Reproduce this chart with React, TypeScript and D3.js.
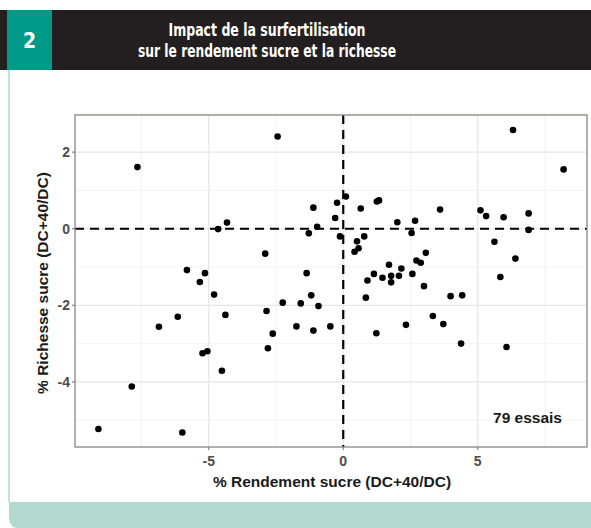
import * as d3 from 'd3'

// % Rendement sucre (x) and % Richesse sucre (y)
const rendement = [
  -7.65, -2.44, -4.65, -4.32, -5.81, -5.33, -5.14, -4.8, -2.9, -1.28,
  -1.11, -0.97, -1.36, -1.19, -2.25, -1.58, -2.85, -4.38, -6.15, -0.92,
  -6.85, -5.23, -5.05, -4.51, -7.86, -9.1, -5.98, -2.62, -2.8, -1.74,
  -1.11, 6.31, 8.19, 0.1, -0.23, -0.3, -0.12, 0.65, 1.25, 1.33,
  2.01, 2.67, 2.54, 3.6, 5.1, 5.31, 5.96, 6.89, 6.89, 5.62,
  6.4, 5.84, 0.51, 0.78, 0.57, 0.42, 3.07, 2.72, 2.88, 1.7,
  1.14, 0.9, 1.46, 1.78, 1.78, 2.07, 2.16, 2.57, 3.0, 0.84,
  3.99, 4.42, 3.33, -0.48, 1.23, 2.33, 3.72, 4.38, 6.07,
]
const richesse = [
  1.61, 2.41, -0.01, 0.16, -1.08, -1.39, -1.16, -1.72, -0.65, -0.12,
  0.55, 0.05, -1.16, -1.74, -1.93, -1.95, -2.15, -2.25, -2.3, -2.02,
  -2.56, -3.25, -3.2, -3.71, -4.12, -5.23, -5.32, -2.74, -3.12, -2.55,
  -2.66, 2.58, 1.55, 0.84, 0.68, 0.28, -0.2, 0.53, 0.71, 0.74,
  0.17, 0.21, -0.11, 0.5, 0.48, 0.33, 0.3, 0.4, -0.03, -0.34,
  -0.78, -1.26, -0.33, -0.2, -0.51, -0.6, -0.63, -0.83, -0.89, -0.94,
  -1.18, -1.35, -1.28, -1.23, -1.4, -1.23, -1.04, -1.18, -1.5, -1.8,
  -1.76, -1.74, -2.28, -2.55, -2.73, -2.51, -2.49, -3.0, -3.09,
]
const xTicks = [-5, 0, 5]
const xMinor = [-7.5, -2.5, 2.5, 7.5]
const yTicks = [-4, -2, 0, 2]
const yMinor = [-5, -3, -1, 1, 3]

const titleLines = ['Impact de la surfertilisation', 'sur le rendement sucre et la richesse']
const titleWidths = [197, 258]

const W = 591
const H = 528
const panel = { left: 75, top: 115, right: 587, bottom: 447 }

export default function App() {
  const x = d3.scaleLinear().domain([-9.97, 9.06]).range([panel.left, panel.right])
  const y = d3.scaleLinear().domain([-5.7, 2.97]).range([panel.bottom, panel.top])
  const points = d3.zip(rendement, richesse)

  const condensed = '"Liberation Sans Narrow", "DejaVu Sans Condensed", "Roboto", sans-serif'
  const plotFont = '"Liberation Sans", Arial, sans-serif'

  const bandPath = `M9,502 H${W} V${H} H19 Q9,${H} 9,${H - 10} Z`

  return (
    <svg
      width={W}
      height={H}
      style={{ position: 'fixed', left: 0, top: 0, background: '#fff' }}
    >
      {/* header */}
      <rect x={0} y={10} width={W} height={60} fill="#231f20" />
      <rect x={7} y={10} width={45} height={60} fill="#009a89" />
      <text
        x={29.5}
        y={48}
        textAnchor="middle"
        fill="#fff"
        fontFamily={condensed}
        fontWeight="bold"
        fontSize={21}
      >
        2
      </text>
      {titleLines.map((line, i) => (
        <text
          key={line}
          x={267}
          y={36 + i * 21}
          textAnchor="middle"
          fill="#fff"
          fontFamily={condensed}
          fontWeight="bold"
          fontSize={18}
          textLength={titleWidths[i]}
          lengthAdjust="spacingAndGlyphs"
        >
          {line}
        </text>
      ))}

      {/* frame */}
      <line x1={9} x2={9} y1={70} y2={502} stroke="#c3e2db" strokeWidth={2} />
      <path d={bandPath} fill="#b3d8d0" />

      {/* grid */}
      <g stroke="#f0f0f0" strokeWidth={0.8}>
        {xMinor.map((v) => (
          <line key={`xm${v}`} x1={x(v)} x2={x(v)} y1={panel.top} y2={panel.bottom} />
        ))}
        {yMinor.map((v) => (
          <line key={`ym${v}`} x1={panel.left} x2={panel.right} y1={y(v)} y2={y(v)} />
        ))}
      </g>
      <g stroke="#e6e6e6" strokeWidth={1.2}>
        {xTicks.map((v) => (
          <line key={`x${v}`} x1={x(v)} x2={x(v)} y1={panel.top} y2={panel.bottom} />
        ))}
        {yTicks.map((v) => (
          <line key={`y${v}`} x1={panel.left} x2={panel.right} y1={y(v)} y2={y(v)} />
        ))}
      </g>

      {/* zero lines */}
      <g stroke="#000" strokeWidth={2.2} strokeDasharray="9 6">
        <line x1={panel.left} x2={panel.right} y1={y(0)} y2={y(0)} />
        <line x1={x(0)} x2={x(0)} y1={panel.top} y2={panel.bottom} />
      </g>

      {/* points */}
      <g fill="#000">
        {points.map(([a, b], i) => (
          <circle key={i} cx={x(a)} cy={y(b)} r={3.3} />
        ))}
      </g>

      {/* panel border */}
      <rect
        x={panel.left}
        y={panel.top}
        width={panel.right - panel.left}
        height={panel.bottom - panel.top}
        fill="none"
        stroke="#8a8482"
        strokeWidth={1.3}
      />

      {/* axes */}
      <g fontFamily={plotFont} fontWeight="bold" fontSize={14} fill="#4d4d4d">
        {xTicks.map((v) => (
          <g key={`xt${v}`}>
            <line x1={x(v)} x2={x(v)} y1={panel.bottom} y2={panel.bottom + 3} stroke="#8a8482" strokeWidth={1.2} />
            <text x={x(v)} y={466} textAnchor="middle">
              {String(v)}
            </text>
          </g>
        ))}
        {yTicks.map((v) => (
          <g key={`yt${v}`}>
            <line x1={panel.left - 3} x2={panel.left} y1={y(v)} y2={y(v)} stroke="#8a8482" strokeWidth={1.2} />
            <text x={panel.left - 5} y={y(v) + 5} textAnchor="end">
              {String(v)}
            </text>
          </g>
        ))}
      </g>
      <text
        x={332}
        y={487}
        textAnchor="middle"
        fontFamily={plotFont}
        fontWeight="bold"
        fontSize={15.5}
        fill="#1a1a1a"
      >
        % Rendement sucre (DC+40/DC)
      </text>
      <text
        transform={`translate(48,283) rotate(-90)`}
        textAnchor="middle"
        fontFamily={plotFont}
        fontWeight="bold"
        fontSize={15.5}
        fill="#1a1a1a"
      >
        % Richesse sucre (DC+40/DC)
      </text>
      <text
        x={562}
        y={423}
        textAnchor="end"
        fontFamily={plotFont}
        fontWeight="bold"
        fontSize={15.5}
        fill="#1a1a1a"
      >
        79 essais
      </text>
    </svg>
  )
}
